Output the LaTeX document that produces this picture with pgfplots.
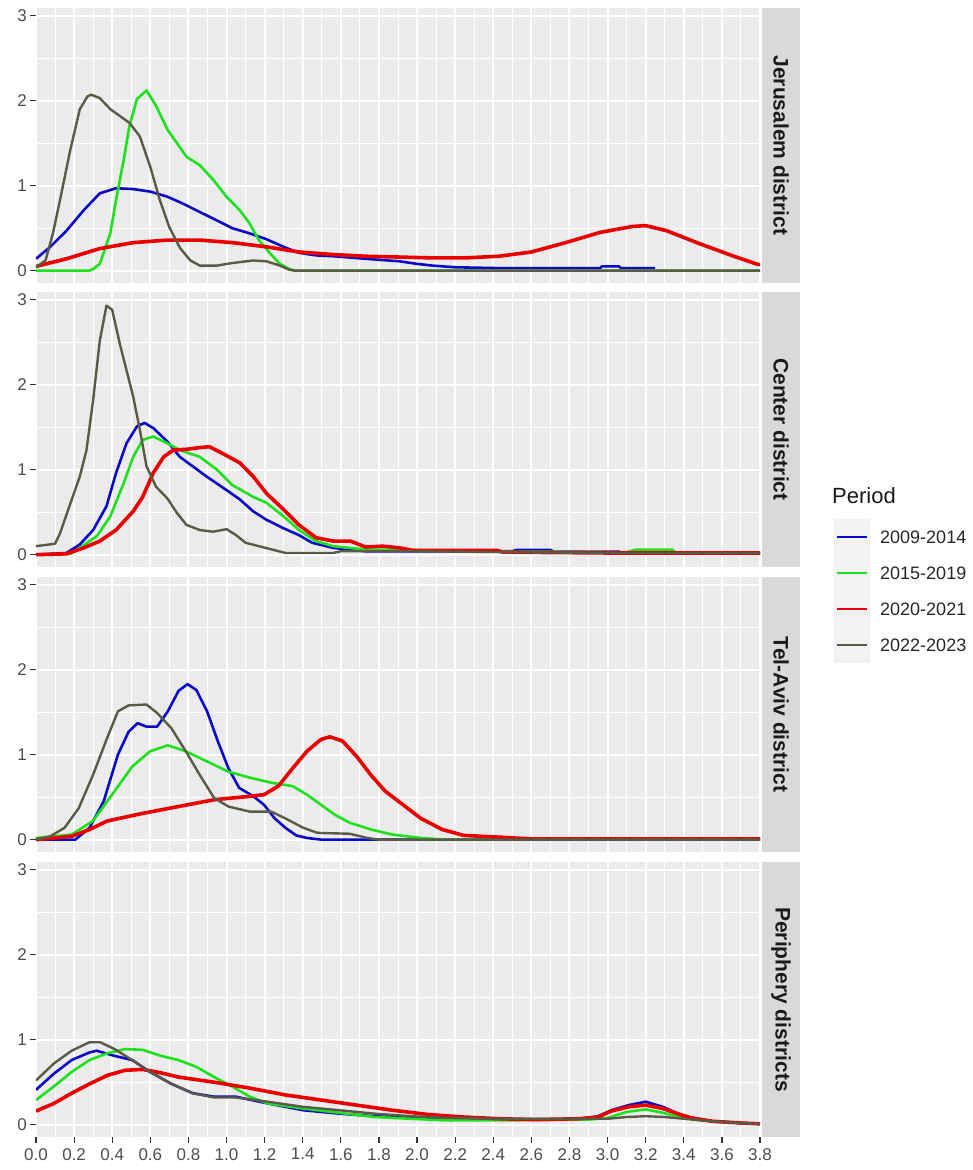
\documentclass[border=0pt]{standalone}
\usepackage{fontspec}
\setmainfont{Liberation Sans}
\usepackage{pgfplots}
\pgfplotsset{compat=1.18}
\definecolor{panelbg}{HTML}{EBEBEB}
\definecolor{stripbg}{HTML}{D9D9D9}
\definecolor{striptext}{HTML}{1A1A1A}
\definecolor{labcol}{HTML}{4D4D4D}
\definecolor{tickcol}{HTML}{333333}
\definecolor{keybg}{HTML}{F2F2F2}
\definecolor{cBlue}{RGB}{10,10,200}
\definecolor{cGreen}{RGB}{30,225,30}
\definecolor{cRed}{RGB}{235,0,0}
\definecolor{cOlive}{RGB}{90,90,70}

\pgfplotsset{
  facet/.style={
    scale only axis, width=724pt, height=275pt, anchor=north west,
    xmin=0, xmax=3.8, ymin=-0.145, ymax=3.09,
    axis background/.style={fill=panelbg},
    axis line style={draw=none},
    xtick={0,0.2,0.4,0.6,0.8,1,1.2,1.4,1.6,1.8,2,2.2,2.4,2.6,2.8,3,3.2,3.4,3.6,3.8},
    ytick={0,1,2,3},
    minor x tick num=1, minor y tick num=1,
    grid=both,
    major grid style={white, line width=2pt},
    minor grid style={white, line width=1pt},
    tick align=outside, xtick pos=bottom, ytick pos=left,
    major tick length=6pt, minor tick length=0pt,
    tick style={color=tickcol, line width=1.2pt},
    yticklabel style={font=\fontsize{17}{20}\selectfont, text=labcol, inner sep=3pt},
    xticklabel style={font=\fontsize{17}{20}\selectfont, text=labcol, inner sep=5pt},
    /pgf/number format/assume math mode=true,
    line join=round,
  },
  noxlab/.style={xticklabels={}, x tick style={draw=none}},
  sB/.style={color=cBlue, line width=2.6pt},
  sG/.style={color=cGreen, line width=2.6pt},
  sR/.style={color=cRed, line width=3.6pt},
  sO/.style={color=cOlive, line width=2.4pt},
}

\begin{document}
\begin{tikzpicture}
\useasboundingbox (0pt,0pt) rectangle (973pt,-1170pt);

% ---------------- Jerusalem district
\begin{axis}[facet, noxlab, at={(36pt,-8pt)}]
\addplot[sB] coordinates {(0,0.14)(0.07,0.27)(0.16,0.47)(0.25,0.71)(0.335,0.91)(0.42,0.97)(0.51,0.96)(0.6,0.93)(0.69,0.87)(0.77,0.79)(0.86,0.69)(0.95,0.59)(1.03,0.5)(1.12,0.44)(1.21,0.37)(1.3,0.28)(1.38,0.21)(1.47,0.18)(1.56,0.17)(1.73,0.14)(1.91,0.11)(2.0,0.08)(2.08,0.06)(2.2,0.04)(2.43,0.03)(2.96,0.03)(2.97,0.05)(3.06,0.05)(3.07,0.03)(3.25,0.03)};
\addplot[sG] coordinates {(0,0)(0.28,0)(0.3,0.02)(0.335,0.08)(0.39,0.44)(0.42,0.83)(0.46,1.3)(0.49,1.7)(0.53,2.02)(0.58,2.12)(0.63,1.94)(0.69,1.66)(0.74,1.5)(0.79,1.34)(0.86,1.24)(0.93,1.07)(1.0,0.87)(1.07,0.71)(1.12,0.56)(1.17,0.36)(1.23,0.2)(1.28,0.08)(1.33,0.02)(1.36,0)(3.8,0)};
\addplot[sR] coordinates {(0,0.05)(0.16,0.14)(0.335,0.26)(0.51,0.33)(0.69,0.36)(0.86,0.36)(1.03,0.33)(1.21,0.28)(1.38,0.22)(1.56,0.19)(1.73,0.17)(1.91,0.16)(2.08,0.15)(2.25,0.15)(2.43,0.17)(2.6,0.22)(2.78,0.33)(2.96,0.45)(3.13,0.52)(3.2,0.53)(3.31,0.47)(3.48,0.32)(3.65,0.18)(3.78,0.08)(3.8,0.07)};
\addplot[sO] coordinates {(0,0.04)(0.05,0.12)(0.09,0.45)(0.126,0.83)(0.18,1.42)(0.23,1.9)(0.27,2.05)(0.29,2.07)(0.335,2.03)(0.39,1.9)(0.44,1.82)(0.49,1.74)(0.545,1.58)(0.6,1.22)(0.65,0.83)(0.7,0.51)(0.755,0.27)(0.81,0.12)(0.86,0.06)(0.95,0.06)(1.03,0.09)(1.14,0.12)(1.21,0.11)(1.28,0.06)(1.33,0.01)(1.36,0)(3.8,0)};
\end{axis}

% ---------------- Center district
\begin{axis}[facet, noxlab, at={(36pt,-292pt)}]
\addplot[sB] coordinates {(0,0)(0.16,0.02)(0.23,0.12)(0.3,0.29)(0.37,0.57)(0.42,0.96)(0.475,1.31)(0.53,1.51)(0.57,1.55)(0.615,1.49)(0.69,1.33)(0.755,1.15)(0.81,1.06)(0.895,0.92)(1.0,0.76)(1.07,0.65)(1.14,0.51)(1.21,0.41)(1.3,0.31)(1.38,0.23)(1.45,0.14)(1.56,0.08)(1.73,0.04)(2.0,0.04)(2.5,0.04)(2.52,0.055)(2.7,0.055)(2.72,0.035)(3.06,0.035)(3.08,0.02)(3.8,0.02)};
\addplot[sG] coordinates {(0,0)(0.18,0.01)(0.23,0.08)(0.32,0.22)(0.39,0.45)(0.46,0.84)(0.51,1.15)(0.56,1.35)(0.615,1.39)(0.69,1.31)(0.755,1.23)(0.86,1.15)(0.95,1.0)(1.03,0.82)(1.14,0.68)(1.21,0.61)(1.3,0.45)(1.38,0.29)(1.47,0.16)(1.56,0.1)(1.73,0.06)(1.91,0.06)(2.2,0.04)(3.1,0.03)(3.15,0.06)(3.34,0.06)(3.36,0.02)(3.8,0.02)};
\addplot[sR] coordinates {(0,0)(0.16,0.01)(0.25,0.08)(0.335,0.16)(0.42,0.29)(0.51,0.51)(0.56,0.68)(0.615,0.96)(0.67,1.15)(0.72,1.23)(0.79,1.24)(0.86,1.26)(0.91,1.27)(0.98,1.19)(1.07,1.08)(1.14,0.92)(1.21,0.72)(1.3,0.53)(1.38,0.35)(1.47,0.2)(1.56,0.16)(1.65,0.16)(1.73,0.09)(1.82,0.1)(1.91,0.08)(1.98,0.05)(2.42,0.05)(2.45,0.03)(3.0,0.02)(3.8,0.02)};
\addplot[sO] coordinates {(0,0.1)(0.07,0.12)(0.1,0.13)(0.126,0.25)(0.18,0.6)(0.23,0.92)(0.265,1.23)(0.3,1.82)(0.335,2.52)(0.37,2.93)(0.4,2.88)(0.44,2.48)(0.475,2.17)(0.51,1.86)(0.545,1.47)(0.58,1.04)(0.63,0.8)(0.69,0.66)(0.74,0.49)(0.79,0.35)(0.86,0.29)(0.93,0.27)(1.0,0.3)(1.05,0.23)(1.1,0.14)(1.17,0.1)(1.24,0.06)(1.31,0.02)(1.56,0.02)(1.6,0.04)(2.0,0.04)(2.5,0.03)(3.0,0.02)(3.8,0.02)};
\end{axis}

% ---------------- Tel-Aviv district
\begin{axis}[facet, noxlab, at={(36pt,-577pt)}]
\addplot[sB] coordinates {(0,0)(0.206,0)(0.281,0.14)(0.355,0.45)(0.43,1.0)(0.486,1.27)(0.533,1.37)(0.58,1.33)(0.636,1.33)(0.692,1.51)(0.748,1.75)(0.795,1.83)(0.842,1.76)(0.898,1.51)(0.954,1.16)(1.01,0.84)(1.066,0.61)(1.141,0.51)(1.197,0.41)(1.253,0.25)(1.309,0.14)(1.366,0.05)(1.422,0.02)(1.5,0)(3.8,0)};
\addplot[sG] coordinates {(0,0.02)(0.187,0.06)(0.299,0.22)(0.412,0.57)(0.505,0.86)(0.599,1.04)(0.692,1.11)(0.786,1.04)(0.898,0.92)(1.01,0.8)(1.122,0.73)(1.235,0.67)(1.347,0.63)(1.422,0.53)(1.496,0.41)(1.571,0.29)(1.646,0.2)(1.758,0.12)(1.871,0.06)(2.02,0.02)(2.151,0)(3.8,0)};
\addplot[sR] coordinates {(0,0)(0.187,0.04)(0.281,0.12)(0.374,0.22)(0.561,0.31)(0.748,0.39)(0.935,0.47)(1.122,0.51)(1.197,0.53)(1.272,0.63)(1.347,0.84)(1.422,1.04)(1.496,1.18)(1.543,1.21)(1.609,1.16)(1.683,0.98)(1.758,0.76)(1.833,0.57)(1.927,0.41)(2.02,0.25)(2.132,0.12)(2.245,0.05)(2.432,0.03)(2.507,0.02)(2.6,0.01)(3.8,0.01)};
\addplot[sO] coordinates {(0,0)(0.075,0.04)(0.15,0.14)(0.224,0.37)(0.299,0.76)(0.374,1.2)(0.43,1.51)(0.486,1.58)(0.58,1.59)(0.636,1.49)(0.711,1.31)(0.786,1.04)(0.86,0.76)(0.935,0.49)(1.01,0.39)(1.122,0.33)(1.235,0.33)(1.309,0.25)(1.403,0.14)(1.478,0.08)(1.646,0.07)(1.74,0.02)(1.8,0)(3.8,0)};
\end{axis}

% ---------------- Periphery districts
\begin{axis}[facet, at={(36pt,-862pt)},
  xticklabels={0.0,0.2,0.4,0.6,0.8,1.0,1.2,1.4,1.6,1.8,2.0,2.2,2.4,2.6,2.8,3.0,3.2,3.4,3.6,3.8}]
\addplot[sB] coordinates {(0,0.41)(0.094,0.6)(0.187,0.76)(0.281,0.85)(0.318,0.87)(0.412,0.81)(0.505,0.76)(0.599,0.62)(0.711,0.48)(0.823,0.37)(0.935,0.33)(1.048,0.33)(1.216,0.25)(1.403,0.17)(1.59,0.13)(1.777,0.1)(1.964,0.08)(2.151,0.06)(2.4,0.06)(2.85,0.06)(2.95,0.1)(3.02,0.17)(3.11,0.23)(3.2,0.27)(3.29,0.21)(3.38,0.12)(3.45,0.07)(3.55,0.04)(3.7,0.02)(3.8,0.01)};
\addplot[sG] coordinates {(0,0.29)(0.094,0.45)(0.187,0.62)(0.281,0.76)(0.374,0.84)(0.468,0.89)(0.561,0.88)(0.655,0.81)(0.748,0.76)(0.842,0.68)(0.935,0.56)(1.029,0.45)(1.122,0.33)(1.216,0.25)(1.403,0.19)(1.59,0.14)(1.777,0.09)(1.964,0.07)(2.151,0.05)(2.4,0.05)(2.9,0.06)(3.0,0.08)(3.1,0.15)(3.2,0.18)(3.29,0.14)(3.38,0.09)(3.45,0.06)(3.55,0.04)(3.7,0.02)(3.8,0.01)};
\addplot[sR] coordinates {(0,0.16)(0.094,0.25)(0.187,0.37)(0.281,0.48)(0.374,0.58)(0.468,0.64)(0.561,0.65)(0.655,0.61)(0.748,0.56)(0.935,0.5)(1.122,0.43)(1.309,0.35)(1.496,0.29)(1.683,0.23)(1.871,0.17)(2.058,0.12)(2.245,0.09)(2.432,0.07)(2.619,0.06)(2.85,0.07)(2.95,0.09)(3.02,0.16)(3.11,0.21)(3.2,0.23)(3.29,0.19)(3.38,0.12)(3.44,0.08)(3.55,0.04)(3.7,0.02)(3.8,0.01)};
\addplot[sO] coordinates {(0,0.52)(0.094,0.72)(0.187,0.87)(0.281,0.97)(0.337,0.97)(0.412,0.89)(0.505,0.76)(0.599,0.62)(0.711,0.48)(0.823,0.37)(0.935,0.32)(1.048,0.32)(1.216,0.27)(1.403,0.21)(1.59,0.17)(1.777,0.13)(1.964,0.1)(2.151,0.08)(2.4,0.07)(3.0,0.07)(3.1,0.09)(3.2,0.1)(3.3,0.09)(3.4,0.07)(3.55,0.04)(3.7,0.02)(3.8,0.01)};
\end{axis}

% ---------------- strips
\tikzset{strip/.style={rotate=-90, font=\bfseries\fontsize{21}{24}\selectfont, text=striptext}}
\fill[stripbg] (762pt,-8pt) rectangle (800pt,-283pt);
\node[strip] at (781pt,-145.5pt) {Jerusalem district};
\fill[stripbg] (762pt,-292pt) rectangle (800pt,-567pt);
\node[strip] at (781pt,-429.5pt) {Center district};
\fill[stripbg] (762pt,-577pt) rectangle (800pt,-852pt);
\node[strip] at (781pt,-714.5pt) {Tel-Aviv district};
\fill[stripbg] (762pt,-862pt) rectangle (800pt,-1137pt);
\node[strip] at (781pt,-999.5pt) {Periphery districts};

% ---------------- legend
\node[anchor=west, font=\fontsize{22}{26}\selectfont, text=black!90, inner sep=0pt] at (832pt,-496pt) {Period};
\fill[keybg] (834pt,-519pt) rectangle (870pt,-663pt);
\draw[cBlue, line width=2.6pt] (837pt,-537pt) -- (867pt,-537pt);
\draw[cGreen, line width=2.6pt] (837pt,-573pt) -- (867pt,-573pt);
\draw[cRed, line width=2.6pt] (837pt,-609pt) -- (867pt,-609pt);
\draw[cOlive, line width=2.6pt] (837pt,-645pt) -- (867pt,-645pt);
\tikzset{legtxt/.style={anchor=west, font=\fontsize{18}{21}\selectfont, text=black!85, inner sep=0pt}}
\node[legtxt] at (880pt,-537pt) {2009-2014};
\node[legtxt] at (880pt,-573pt) {2015-2019};
\node[legtxt] at (880pt,-609pt) {2020-2021};
\node[legtxt] at (880pt,-645pt) {2022-2023};
\end{tikzpicture}
\end{document}
